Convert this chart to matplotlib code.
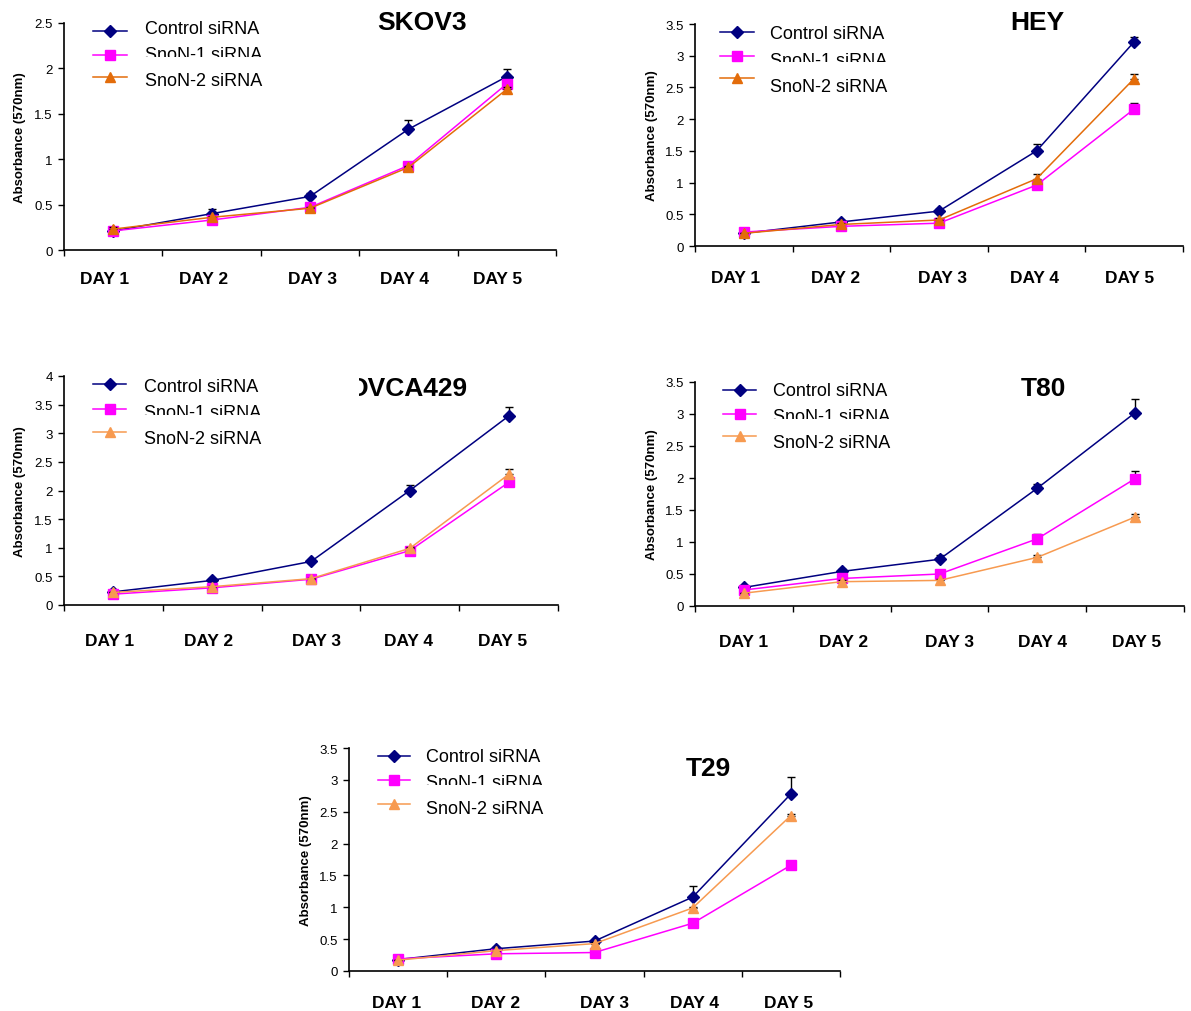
import matplotlib
matplotlib.use('Agg')
import matplotlib.pyplot as plt
import numpy as np
from matplotlib.lines import Line2D
from matplotlib.patches import Rectangle
from matplotlib.transforms import Bbox, TransformedBbox, ScaledTranslation

plt.rcParams['font.family'] = ['Liberation Sans', 'DejaVu Sans']

# ---------------- data ----------------
days = ['DAY 1', 'DAY 2', 'DAY 3', 'DAY 4', 'DAY 5']
series_names = ['Control siRNA', 'SnoN-1 siRNA', 'SnoN-2 siRNA']
cell_lines = ['SKOV3', 'HEY', 'OVCA429', 'T80', 'T29']
y_max = [2.5, 3.5, 4.0, 3.5, 3.5]

skov3_control = [0.21, 0.40, 0.59, 1.33, 1.91]
skov3_snon1 = [0.21, 0.33, 0.47, 0.93, 1.83]
skov3_snon2 = [0.23, 0.36, 0.46, 0.91, 1.77]
skov3_control_err = [0.02, 0.05, 0.04, 0.10, 0.08]
skov3_snon1_err = [0.01, 0.01, 0.01, 0.02, 0.03]
skov3_snon2_err = [0.02, 0.01, 0.01, 0.02, 0.02]

hey_control = [0.20, 0.38, 0.55, 1.50, 3.22]
hey_snon1 = [0.22, 0.31, 0.36, 0.96, 2.16]
hey_snon2 = [0.20, 0.34, 0.41, 1.06, 2.64]
hey_control_err = [0.02, 0.03, 0.03, 0.11, 0.08]
hey_snon1_err = [0.02, 0.02, 0.02, 0.03, 0.09]
hey_snon2_err = [0.01, 0.02, 0.03, 0.07, 0.07]

ovca429_control = [0.23, 0.43, 0.76, 2.00, 3.30]
ovca429_snon1 = [0.19, 0.30, 0.45, 0.95, 2.14]
ovca429_snon2 = [0.22, 0.32, 0.46, 0.99, 2.28]
ovca429_control_err = [0.02, 0.03, 0.03, 0.09, 0.15]
ovca429_snon1_err = [0.01, 0.02, 0.02, 0.03, 0.04]
ovca429_snon2_err = [0.01, 0.02, 0.02, 0.03, 0.09]

t80_control = [0.29, 0.54, 0.73, 1.84, 3.02]
t80_snon1 = [0.25, 0.43, 0.50, 1.05, 1.99]
t80_snon2 = [0.20, 0.38, 0.40, 0.76, 1.39]
t80_control_err = [0.03, 0.04, 0.07, 0.06, 0.22]
t80_snon1_err = [0.02, 0.03, 0.03, 0.08, 0.12]
t80_snon2_err = [0.01, 0.02, 0.02, 0.04, 0.05]

t29_control = [0.18, 0.35, 0.47, 1.16, 2.78]
t29_snon1 = [0.19, 0.27, 0.29, 0.75, 1.66]
t29_snon2 = [0.17, 0.32, 0.43, 0.99, 2.44]
t29_control_err = [0.01, 0.03, 0.02, 0.18, 0.26]
t29_snon1_err = [0.01, 0.01, 0.01, 0.05, 0.03]
t29_snon2_err = [0.01, 0.01, 0.02, 0.02, 0.03]

panel_values = [
    (skov3_control, skov3_snon1, skov3_snon2),
    (hey_control, hey_snon1, hey_snon2),
    (ovca429_control, ovca429_snon1, ovca429_snon2),
    (t80_control, t80_snon1, t80_snon2),
    (t29_control, t29_snon1, t29_snon2),
]
panel_errors = [
    (skov3_control_err, skov3_snon1_err, skov3_snon2_err),
    (hey_control_err, hey_snon1_err, hey_snon2_err),
    (ovca429_control_err, ovca429_snon1_err, ovca429_snon2_err),
    (t80_control_err, t80_snon1_err, t80_snon2_err),
    (t29_control_err, t29_snon1_err, t29_snon2_err),
]

# ---------------- styling / layout ----------------
W, H = 1191, 1012
NAVY = '#000080'
MAGENTA = '#FF00FF'
ORANGE_DARK = '#E36C0A'
ORANGE_LIGHT = '#F79A50'
orange_for_panel = [ORANGE_DARK, ORANGE_DARK, ORANGE_LIGHT, ORANGE_LIGHT, ORANGE_LIGHT]
markers = ['D', 's', '^']
msizes = [5.8, 6.5, 7]

# axes boxes in pixels: x0, x1, ytop, ybottom
boxes = [
    (64, 556, 24, 251),
    (695, 1183, 25, 247),
    (64, 558, 377, 606),
    (695, 1184, 383, 607),
    (349, 840, 749, 972),
]
# pad (pt) of the DAY labels below each axis
day_pads = [15, 17.5, 20.5, 20.5, 17]
# horizontal shifts (px) of the DAY labels, as placed in the reference
day_shifts = [
    [-9, -8, 2, -4, -9],
    [-8, -6, 4, -2, -5],
    [-4, -4, 6, -1, -6],
    [0, 2, 10, 5, 1],
    [-2, -1, 10, 2, -2],
]
# title centres (x, y) in pixels
titles_xy = [(422, 21), (1037, 20), (408, 387), (1043, 387), (708, 767)]
# legend: handle x0, x1, text x, marker ys, text ys
legends = [
    (93, 127, 145, [32, 56, 78], [28, 54, 80]),
    (720, 754, 770, [33, 57, 79], [33, 59, 85]),
    (93, 126, 144, [385, 410, 433], [386, 412, 438]),
    (723, 756, 773, [391, 415, 437], [390, 416, 442]),
    (378, 410, 426, [757, 781, 805], [756, 782, 808]),
]


def fx(x):
    return x / W


def fy(y):
    return 1 - y / H


fig = plt.figure(figsize=(W / 100, H / 100), dpi=100)
fig.patch.set_facecolor('white')

xpos = np.arange(1, 6)
for p in range(5):
    x0, x1, yt, yb = boxes[p]
    ax = fig.add_axes([fx(x0), fy(yb), (x1 - x0) / W, (yb - yt) / H])
    colors = [NAVY, MAGENTA, orange_for_panel[p]]
    for s in range(3):
        vals = np.array(panel_values[p][s])
        err = np.array(panel_errors[p][s])
        ax.errorbar(xpos, vals, yerr=[np.zeros_like(err), err], fmt='none',
                    ecolor='black', elinewidth=1.0, capsize=3, capthick=1.0,
                    zorder=2 + s)
        ax.plot(xpos, vals, color=colors[s], marker=markers[s], ms=msizes[s],
                mec=colors[s], mfc=colors[s], lw=1.1, zorder=2.5 + s)
    ax.set_xlim(0.5, 5.5)
    ax.set_ylim(0, y_max[p])
    for sp in ['top', 'right']:
        ax.spines[sp].set_visible(False)
    for sp in ['left', 'bottom']:
        ax.spines[sp].set_linewidth(1.2)
        ax.spines[sp].set_color('black')
    ax.set_xticks(xpos)
    ax.set_xticklabels(days, fontsize=12.5, fontweight='bold')
    ax.set_xticks(np.arange(0.5, 6.0, 1.0), minor=True)
    ax.tick_params(axis='x', which='major', length=0, pad=day_pads[p])
    ax.tick_params(axis='x', which='minor', length=4, width=1, direction='out')
    yt_vals = np.arange(0, y_max[p] + 0.01, 0.5)
    ax.set_yticks(yt_vals)
    ax.set_yticklabels([f'{v:g}' for v in yt_vals], fontsize=9.5)
    ax.tick_params(axis='y', which='major', length=4, width=1, direction='out', pad=4)
    for k, lbl in enumerate(ax.get_xticklabels()):
        off = ScaledTranslation(day_shifts[p][k] / 100, 0, fig.dpi_scale_trans)
        lbl.set_transform(lbl.get_transform() + off)
    ax.set_ylabel('Absorbance (570nm)', fontsize=9.5, fontweight='bold')
    ax.yaxis.set_label_coords(-37.5 / (x1 - x0), 0.5)

    # title
    tx, ty = titles_xy[p]
    t = fig.text(fx(tx), fy(ty + 9.5), cell_lines[p], fontsize=19,
                 fontweight='bold', ha='center', va='baseline')
    if cell_lines[p] == 'OVCA429':
        t.set_clip_box(TransformedBbox(Bbox.from_extents(fx(359), 0, 1, 1),
                                       fig.transFigure))
        t.set_clip_on(True)

    # legend (drawn manually)
    hx0, hx1, ltx, mys, tys = legends[p]
    for s in range(3):
        fig.add_artist(Line2D([fx(hx0), fx(hx1)], [fy(mys[s]), fy(mys[s])],
                              color=colors[s], lw=1.1))
        fig.add_artist(Line2D([fx((hx0 + hx1) / 2)], [fy(mys[s])],
                              color=colors[s], marker=markers[s], ms=msizes[s],
                              mec=colors[s], mfc=colors[s], lw=0))
        fig.text(fx(ltx), fy(tys[s] + 6.5), series_names[s], fontsize=13,
                 ha='left', va='baseline')
    # the SnoN-1 label is partly hidden at its bottom in the reference
    base = tys[1] + 6.5
    fig.add_artist(Rectangle((fx(ltx - 2), fy(base + 3)), 125 / W, 6 / H,
                             transform=fig.transFigure, facecolor='white',
                             edgecolor='none', zorder=10))

fig.savefig('out.png', dpi=100, facecolor='white')
